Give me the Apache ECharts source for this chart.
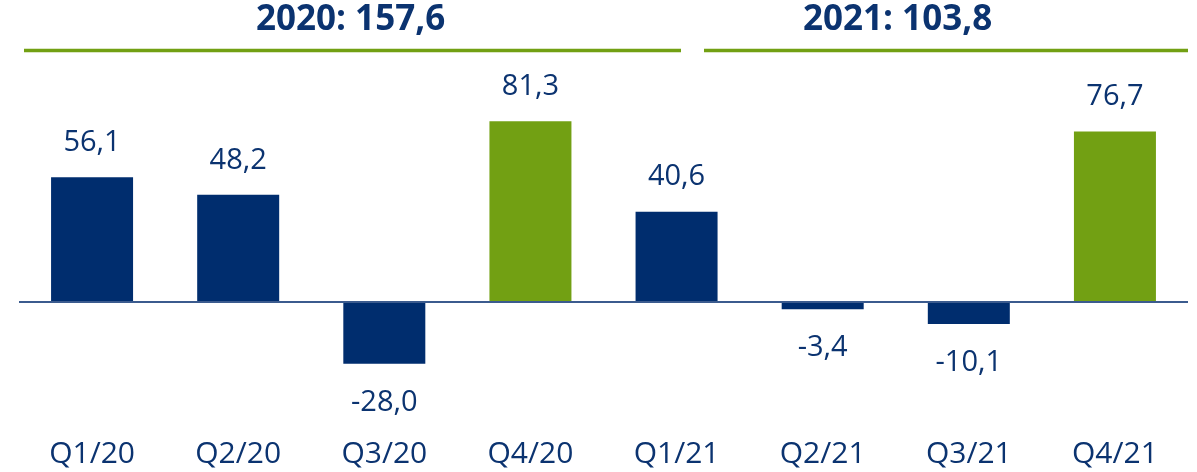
<!DOCTYPE html>
<html>
<head>
<meta charset="utf-8">
<script src="https://cdn.jsdelivr.net/npm/echarts@6/dist/echarts.min.js"></script>
<style>
  html, body { margin: 0; padding: 0; background: #fff; }
  #chart { width: 1197px; height: 472px; }
</style>
</head>
<body>
<div id="chart"></div>
<script>
// quarterly values
var quarters = ['Q1/20', 'Q2/20', 'Q3/20', 'Q4/20', 'Q1/21', 'Q2/21', 'Q3/21', 'Q4/21'];
var values = [56.1, 48.2, -28.0, 81.3, 40.6, -3.4, -10.1, 76.7];
// yearly totals shown above the bars
var yearHeaders = ['2020: 157,6', '2021: 103,8'];

var navy = '#002d6e';
var green = '#72a013';
var textColor = '#0b3370';
var font = '"Open Sans", "Noto Sans", sans-serif';

var chart = echarts.init(document.getElementById('chart'));

var barData = values.map(function (v, i) {
  return {
    value: v,
    itemStyle: { color: quarters[i].indexOf('Q4') === 0 ? green : navy },
    label: v < 0 ? { position: 'bottom', distance: 24 } : { position: 'top', distance: 20 }
  };
});

var option = {
  animation: false,
  grid: { left: 19, right: 9, top: 57.7, bottom: 59.4 },
  xAxis: {
    type: 'category',
    data: quarters,
    axisLine: { show: false, onZero: false },
    axisTick: { show: false },
    axisLabel: {
      margin: 27,
      color: textColor,
      fontSize: 30,
      fontFamily: font
    }
  },
  yAxis: {
    type: 'value',
    min: -50,
    max: 110,
    show: false,
    splitLine: { show: false }
  },
  graphic: [
    {
      type: 'text', left: 256, top: 3,
      style: { text: yearHeaders[0], fill: textColor, font: 'bold 35px ' + font }
    },
    {
      type: 'text', left: 803, top: 3,
      style: { text: yearHeaders[1], fill: textColor, font: 'bold 35px ' + font }
    },
    {
      type: 'line',
      shape: { x1: 24, y1: 50.5, x2: 681, y2: 50.5 },
      style: { stroke: green, lineWidth: 3.5 }
    },
    {
      type: 'line',
      shape: { x1: 704, y1: 50.5, x2: 1188, y2: 50.5 },
      style: { stroke: green, lineWidth: 3.5 }
    }
  ],
  series: [
    {
      type: 'bar',
      data: barData,
      barWidth: 82,
      label: {
        show: true,
        color: textColor,
        fontSize: 29,
        fontFamily: font,
        formatter: function (p) {
          return p.value.toFixed(1).replace('.', ',');
        }
      },
      markLine: {
        silent: true,
        symbol: 'none',
        label: { show: false },
        lineStyle: { color: '#3b5b8e', width: 2, type: 'solid' },
        data: [{ yAxis: 0 }]
      }
    }
  ]
};

chart.setOption(option);
</script>
</body>
</html>
